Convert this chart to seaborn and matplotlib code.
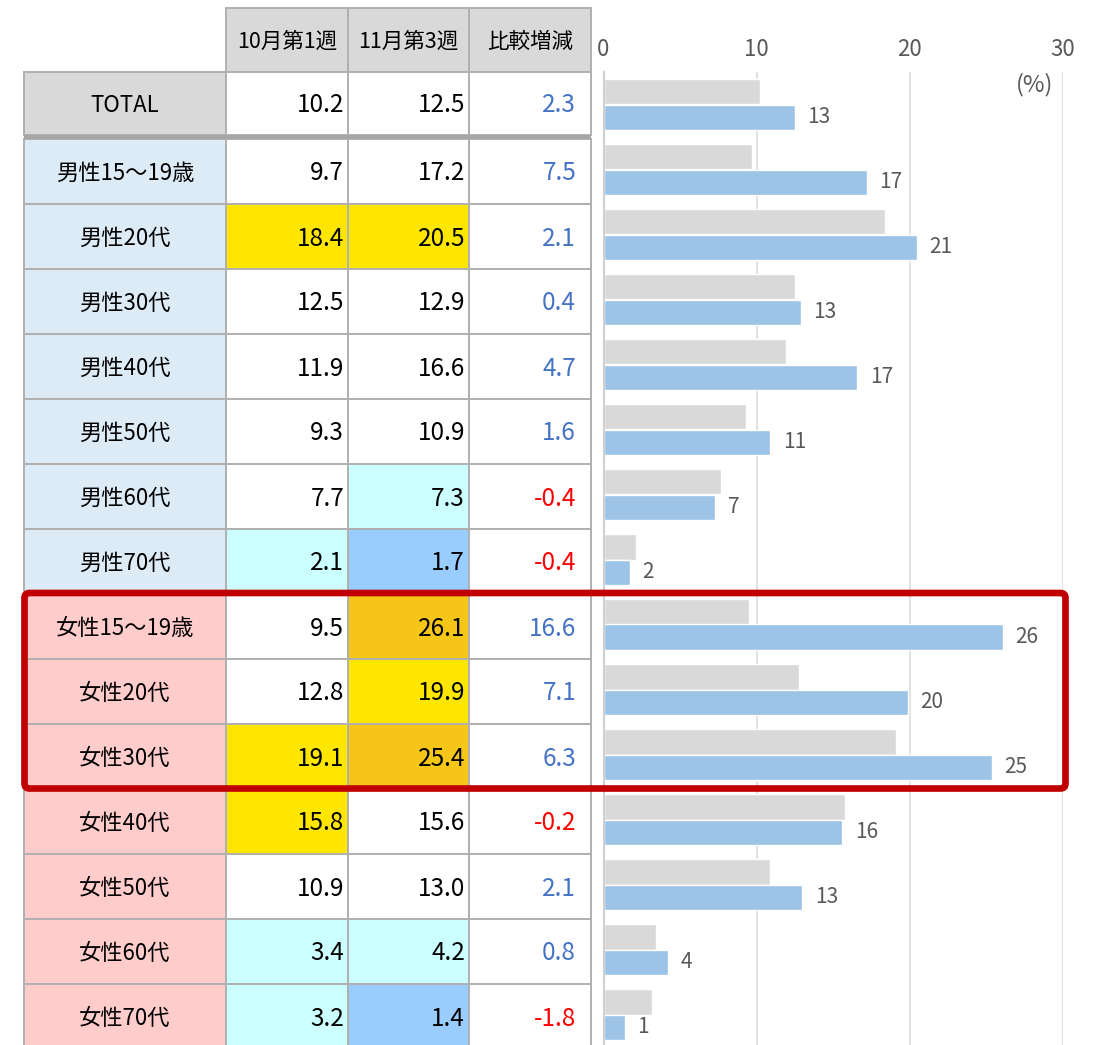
import numpy as np
import pandas as pd
import matplotlib
matplotlib.use("Agg")
import matplotlib.pyplot as plt
from matplotlib.patches import Rectangle, FancyBboxPatch
import seaborn as sns

# ---------------- data ----------------
categories = ["TOTAL", "男性15～19歳", "男性20代", "男性30代", "男性40代", "男性50代",
              "男性60代", "男性70代", "女性15～19歳", "女性20代", "女性30代", "女性40代",
              "女性50代", "女性60代", "女性70代"]
headers = ["10月第1週", "11月第3週", "比較増減"]
oct_values = [10.2, 9.7, 18.4, 12.5, 11.9, 9.3, 7.7, 2.1, 9.5, 12.8, 19.1, 15.8, 10.9, 3.4, 3.2]
nov_values = [12.5, 17.2, 20.5, 12.9, 16.6, 10.9, 7.3, 1.7, 26.1, 19.9, 25.4, 15.6, 13.0, 4.2, 1.4]
diff_values = [2.3, 7.5, 2.1, 0.4, 4.7, 1.6, -0.4, -0.4, 16.6, 7.1, 6.3, -0.2, 2.1, 0.8, -1.8]
x_ticks = [0, 10, 20, 30]

# ---------------- styles ----------------
W, H = 1094, 1045
GRAY_BAR = "#d9d9d9"
BLUE_BAR = "#9dc3e6"
Y, G, C, B, N = "#ffe600", "#f5c518", "#ccffff", "#99ccff", "#ffffff"
label_fill = ["#d9d9d9"] + ["#ddebf7"] * 7 + ["#ffcccc"] * 7
oct_fill = [N, N, Y, N, N, N, N, C, N, N, Y, Y, N, C, C]
nov_fill = [N, N, Y, N, N, N, C, B, G, Y, G, N, N, C, B]

sns.set_style("white")
plt.rcParams["font.family"] = ["Noto Sans CJK JP", "DejaVu Sans"]

fig = plt.figure(figsize=(W / 100, H / 100), dpi=100)
fig.patch.set_facecolor("white")

def fx(px):
    return px / W

def fy(py):
    return 1 - py / H

# ---------------- bar chart ----------------
x0, x1 = 603.5, 1062.5
top, pitch = 72, 65
n = len(categories)
bottom = top + n * pitch
ax = fig.add_axes([fx(x0), fy(bottom), fx(x1) - fx(x0), (bottom - top) / H])

df = pd.DataFrame({
    "cat": categories * 2,
    "val": oct_values + nov_values,
    "week": [headers[0]] * n + [headers[1]] * n,
})
sns.barplot(data=df, y="cat", x="val", hue="week", order=categories,
            hue_order=headers[:2], palette=[GRAY_BAR, BLUE_BAR], orient="h",
            width=0.785, gap=0, saturation=1, errorbar=None, legend=False, ax=ax)

ax.set_xlim(0, 30)
ax.set_ylim(n - 0.5, -0.5)
ax.set_xticks(x_ticks)
ax.xaxis.tick_top()
ax.tick_params(axis="x", length=0, pad=8, labelsize=16, labelcolor="#595959")
ax.tick_params(axis="y", length=0, labelleft=False)
ax.set_xlabel("")
ax.set_ylabel("")
ax.grid(axis="x", color="#d9d9d9", linewidth=1.1)
ax.grid(axis="y", visible=False)
ax.set_axisbelow(True)
for s in ["top", "right", "bottom"]:
    ax.spines[s].set_visible(False)
ax.spines["left"].set_color("#d0d0d0")
ax.spines["left"].set_linewidth(1.5)
ax.patch.set_alpha(0)

def half_up(v):
    return str(int(np.floor(v + 0.5)))

ax.bar_label(ax.containers[1], labels=[half_up(v) for v in nov_values],
             padding=9, fontsize=15, color="#595959")

# ---------------- table (overlay in pixel coords) ----------------
tax = fig.add_axes([0, 0, 1, 1])
tax.set_xlim(0, W)
tax.set_ylim(H, 0)
tax.axis("off")
tax.patch.set_alpha(0)

tax.text(1053, 85, "(%)", ha="right", va="center", fontsize=17, color="#595959")

cols = [24, 226, 348, 469, 591]
EDGE = "#b0b0b0"
LW = 1.4
DY = 2

# header
for j, h in enumerate(headers):
    xl, xr = cols[j + 1], cols[j + 2]
    tax.add_patch(Rectangle((xl, 8), xr - xl, 64, facecolor="#d9d9d9", edgecolor=EDGE, lw=LW))
    tax.text((xl + xr) / 2, 42, h, ha="center", va="center", fontsize=15.5, color="black")

def row_span(i):
    if i == 0:
        return 72, 135
    t = 139 + (i - 1) * pitch
    return t, t + pitch

for i, cat in enumerate(categories):
    t, b = row_span(i)
    cy = (t + b) / 2 + DY
    fills = [label_fill[i], oct_fill[i], nov_fill[i], "#ffffff"]
    for j in range(4):
        tax.add_patch(Rectangle((cols[j], t), cols[j + 1] - cols[j], b - t,
                                facecolor=fills[j], edgecolor=EDGE, lw=LW))
    tax.text((cols[0] + cols[1]) / 2, cy, cat, ha="center", va="center",
             fontsize=16, color="black")
    tax.text(cols[2] - 4, cy, f"{oct_values[i]:.1f}", ha="right", va="center",
             fontsize=17.5, color="black")
    tax.text(cols[3] - 4, cy, f"{nov_values[i]:.1f}", ha="right", va="center",
             fontsize=17.5, color="black")
    d = diff_values[i]
    tax.text(cols[4] - 15, cy, f"{d:.1f}", ha="right", va="center",
             fontsize=17.5, color="#4472c4" if d >= 0 else "#ff0000")

# thick separator under TOTAL
tax.add_patch(Rectangle((cols[0], 135), cols[-1] - cols[0], 4, facecolor="#a6a6a6",
                        edgecolor="none"))

# red highlight box
tax.add_patch(FancyBboxPatch((24.5, 593), 1065.5 - 24.5, 788.5 - 593,
                             boxstyle="round,pad=0,rounding_size=5",
                             facecolor="none", edgecolor="#c00000", lw=4.8))

fig.savefig("out.png", dpi=100, facecolor="white")
